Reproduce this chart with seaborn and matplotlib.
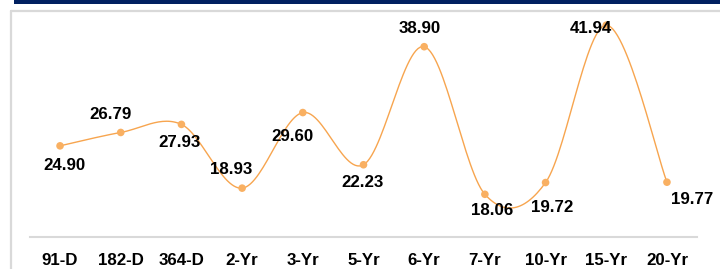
"""
Yield curve style chart: smoothed orange line with labelled points.
"""

import matplotlib
matplotlib.use("Agg")
import matplotlib.pyplot as plt
from matplotlib.lines import Line2D
from matplotlib.patches import Rectangle
import numpy as np
import pandas as pd
import seaborn as sns

# Chart data
tenors = ['91-D', '182-D', '364-D', '2-Yr', '3-Yr', '5-Yr',
          '6-Yr', '7-Yr', '10-Yr', '15-Yr', '20-Yr']
rates = [24.90, 26.79, 27.93, 18.93, 29.60, 22.23,
         38.90, 18.06, 19.72, 41.94, 19.77]

# Label offsets in pixels (dx, dy), dy positive = down
label_offsets = [(4, 20), (-10, -18), (-2, 18), (-11, -19), (-10, 24), (-1, 18),
                 (-4, -18), (7, 16), (7, 25), (-15, 3), (25, 17)]

LINE_COLOR = '#F7A54F'
MARKER_COLOR = '#F9B062'
GRID_GRAY = '#D9D9D9'
NAVY = '#002060'


def smooth_curve(xs, ys, steps=30):
    """Excel-like smoothed line: Bezier segments with Catmull-Rom control points."""
    pts = np.column_stack([xs, ys]).astype(float)
    n = len(pts)
    out = []
    t = np.linspace(0, 1, steps)[:, None]
    for i in range(n - 1):
        p0 = pts[i - 1] if i > 0 else pts[i]
        p1 = pts[i]
        p2 = pts[i + 1]
        p3 = pts[i + 2] if i + 2 < n else pts[i + 1]
        c1 = p1 + (p2 - p0) / 6.0
        c2 = p2 - (p3 - p1) / 6.0
        seg = ((1 - t) ** 3) * p1 + 3 * ((1 - t) ** 2) * t * c1 \
            + 3 * (1 - t) * t ** 2 * c2 + t ** 3 * p2
        out.append(seg if i == 0 else seg[1:])
    return np.vstack(out)


sns.set_theme(style='white')
plt.rcParams['font.family'] = ['Liberation Sans', 'DejaVu Sans']

fig = plt.figure(figsize=(7.2, 2.69), dpi=100)
ax = fig.add_axes([29.7 / 720, 1 - 237 / 269, (697.3 - 29.7) / 720, (237 - 11) / 269])

x_idx = np.arange(len(tenors))
curve = smooth_curve(x_idx, rates)
curve_df = pd.DataFrame({'x': curve[:, 0], 'y': curve[:, 1]})
points_df = pd.DataFrame({'x': x_idx, 'y': rates})

sns.lineplot(data=curve_df, x='x', y='y', sort=False, estimator=None,
             color=LINE_COLOR, linewidth=1.0, ax=ax)
sns.scatterplot(data=points_df, x='x', y='y', color=MARKER_COLOR, s=30,
                edgecolor='none', zorder=3, ax=ax)

for xi, val, (dx, dy) in zip(x_idx, rates, label_offsets):
    ax.annotate(f'{val:.2f}', (xi, val), xytext=(dx, -dy), textcoords='offset pixels',
                ha='center', va='center', fontsize=12.2, fontweight='bold',
                color='black', zorder=4)

ax.set_xlim(-0.5, len(tenors) - 0.5)
ax.set_ylim(12.03, 43.94)
ax.set_xticks(x_idx)
ax.set_xticklabels(tenors, fontsize=12.2, fontweight='bold', color='black')
ax.set_yticks([])
ax.set_xlabel('')
ax.set_ylabel('')
ax.tick_params(axis='x', length=0, pad=11.5)
for side in ['top', 'left', 'right']:
    ax.spines[side].set_visible(False)
ax.spines['bottom'].set_color(GRID_GRAY)
ax.spines['bottom'].set_linewidth(1.5)
ax.patch.set_alpha(0)
for coll in ax.lines:
    coll.set_clip_on(False)

# Frame and header bar
fig.add_artist(Rectangle((14 / 720, 1 - 4 / 269), 1 - 14 / 720, 4 / 269,
                         transform=fig.transFigure, color=NAVY, lw=0))
fig.add_artist(Line2D([11 / 720, 11 / 720], [0, 1 - 11 / 269],
                      transform=fig.transFigure, color=GRID_GRAY, lw=1.6))
fig.add_artist(Line2D([11 / 720, 1], [1 - 11 / 269, 1 - 11 / 269],
                      transform=fig.transFigure, color=GRID_GRAY, lw=1.6))

fig.savefig('out.png', dpi=100)
